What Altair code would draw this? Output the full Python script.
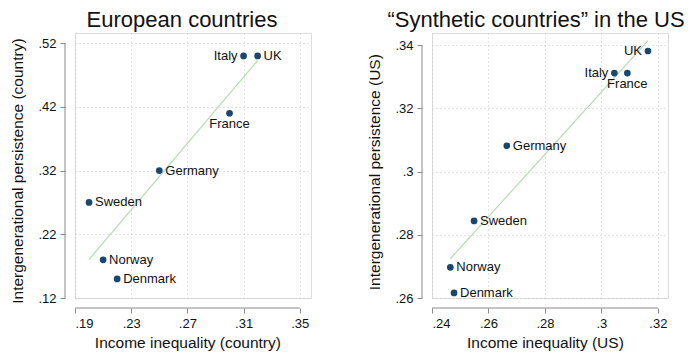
import altair as alt
import pandas as pd

countries = ["Sweden", "Norway", "Denmark", "Germany", "France", "Italy", "UK"]
eu_ineq = [0.20, 0.21, 0.22, 0.25, 0.30, 0.31, 0.32]
eu_pers = [0.27, 0.18, 0.15, 0.32, 0.41, 0.50, 0.50]
eu_pos = ["right", "right", "right", "right", "below", "left", "right"]

us_ineq = [0.2549, 0.2465, 0.2478, 0.2665, 0.3092, 0.3046, 0.3165]
us_pers = [0.2844, 0.2697, 0.2616, 0.3082, 0.3312, 0.3312, 0.3382]
us_pos = ["right", "right", "right", "right", "below", "left", "left"]

eu_xticks = [0.19, 0.23, 0.27, 0.31, 0.35]
eu_yticks = [0.12, 0.22, 0.32, 0.42, 0.52]
us_xticks = [0.24, 0.26, 0.28, 0.30, 0.32]
us_yticks = [0.26, 0.28, 0.30, 0.32, 0.34]

FONT = "Liberation Sans"
PT = "#1a476f"
FIT = "#b4dcae"
AX = "#8a8a8a"
W, H = 236, 265


def fmt_expr():
    return "replace(format(datum.value, '.2~f'), /^0/, '')"


def panel(x, y, pos, xt, yt, xdom, ydom, title, xtitle, ytitle, tdx):
    df = pd.DataFrame({"c": countries, "x": x, "y": y, "pos": pos})
    xs = alt.Scale(domain=xdom, nice=False, zero=False)
    ys = alt.Scale(domain=ydom, nice=False, zero=False)
    y_top = H - (yt[-1] - ydom[0]) / (ydom[1] - ydom[0]) * H
    y_bot = H - (yt[0] - ydom[0]) / (ydom[1] - ydom[0]) * H
    xaxis = alt.Axis(values=xt, labelExpr=fmt_expr(), domain=False, grid=True,
                     gridDash=[1, 3], gridColor="#c8c8c8", offset=10,
                     tickColor=AX, tickSize=5, labelFontSize=13, labelFont=FONT,
                     labelColor="#111", labelPadding=4, title=xtitle,
                     titleFontSize=15.5, titleFont=FONT, titleFontWeight="normal",
                     titleColor="#111", titlePadding=5,
                     titleX=(xt[-1] - xdom[0]) / (xdom[1] - xdom[0]) * W / 2)
    yaxis = alt.Axis(values=yt, labelExpr=fmt_expr(), domain=False, grid=True,
                     gridDash=[1, 3], gridColor="#c8c8c8", offset=10,
                     tickColor=AX, tickSize=5, labelFontSize=13, labelFont=FONT,
                     labelColor="#111", labelPadding=4, title=ytitle,
                     titleFontSize=15.5, titleFont=FONT, titleFontWeight="normal",
                     titleColor="#111", titlePadding=12,
                     titleY=(y_top + y_bot) / 2)
    base = alt.Chart(df)
    pts = base.mark_circle(size=45, color=PT, opacity=1).encode(
        x=alt.X("x:Q", scale=xs, axis=xaxis),
        y=alt.Y("y:Q", scale=ys, axis=yaxis),
    )
    fit = base.transform_regression("x", "y").mark_line(color=FIT, strokeWidth=1.2).encode(
        x=alt.X("x:Q", scale=xs), y=alt.Y("y:Q", scale=ys))
    lab_r = base.transform_filter(alt.datum.pos == "right").mark_text(
        align="left", dx=6, fontSize=13, font=FONT, color="#111").encode(
        x=alt.X("x:Q", scale=xs), y=alt.Y("y:Q", scale=ys), text="c:N")
    lab_l = base.transform_filter(alt.datum.pos == "left").mark_text(
        align="right", dx=-6, fontSize=13, font=FONT, color="#111").encode(
        x=alt.X("x:Q", scale=xs), y=alt.Y("y:Q", scale=ys), text="c:N")
    lab_b = base.transform_filter(alt.datum.pos == "below").mark_text(
        align="center", baseline="top", dy=5, fontSize=13, font=FONT, color="#111").encode(
        x=alt.X("x:Q", scale=xs), y=alt.Y("y:Q", scale=ys), text="c:N")
    xline = alt.Chart(pd.DataFrame({"a": [xt[0]], "b": [xt[-1]]})).mark_rule(
        color=AX, strokeWidth=1).encode(
        x=alt.X("a:Q", scale=xs), x2="b:Q", y=alt.value(H + 10))
    yline = alt.Chart(pd.DataFrame({"a": [yt[0]], "b": [yt[-1]]})).mark_rule(
        color=AX, strokeWidth=1).encode(
        y=alt.Y("a:Q", scale=ys), y2="b:Q", x=alt.value(-10))
    return alt.layer(xline, yline, fit, pts, lab_r, lab_l, lab_b).properties(
        width=W, height=H,
        title=alt.TitleParams(title, fontSize=22, font=FONT, fontWeight="normal",
                              color="#111", anchor="middle", frame="group", dx=tdx, offset=1))


left = panel(eu_ineq, eu_pers, eu_pos, eu_xticks, eu_yticks, [0.19, 0.358], [0.12, 0.536],
             "European countries", "Income inequality (country)",
             "Intergenerational persistence (country)", -11)
right = panel(us_ineq, us_pers, us_pos, us_xticks, us_yticks, [0.24, 0.3236], [0.26, 0.3439],
              "\u201cSynthetic countries\u201d in the US", "Income inequality (US)",
              "Intergenerational persistence (US)", -14)

chart = alt.hconcat(left, right, spacing=55).configure_view(stroke=None).configure(
    background="white", padding={"left": 2, "top": 0, "right": 0, "bottom": 0})

chart.save("out.html", embed_options={"renderer": "svg", "actions": False})
